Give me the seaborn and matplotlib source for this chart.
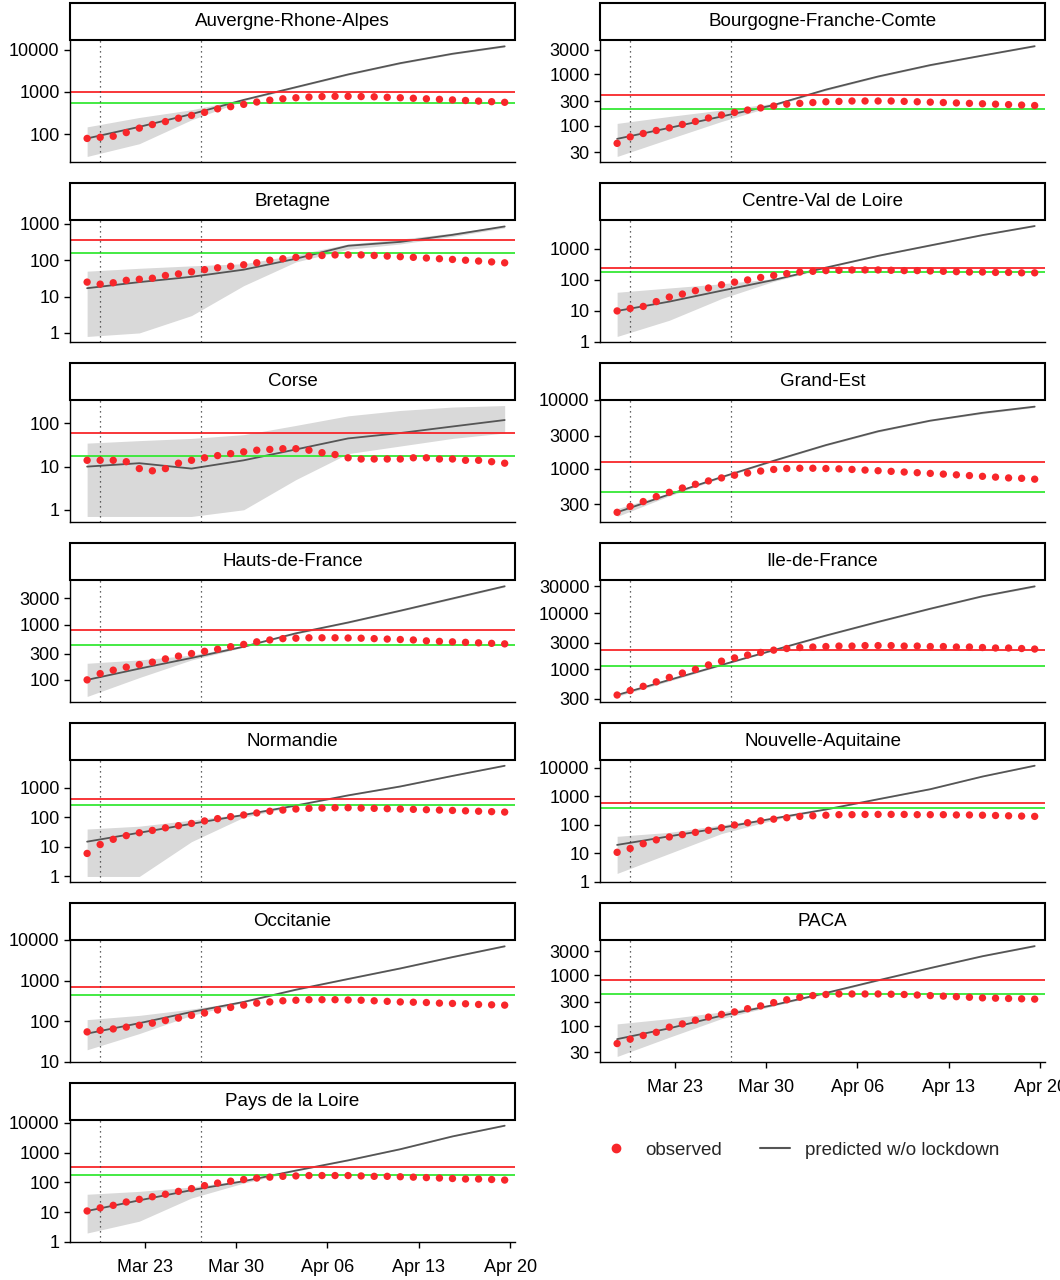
import numpy as np
import pandas as pd
import matplotlib
matplotlib.use("Agg")
import matplotlib.pyplot as plt
import matplotlib.dates as mdates
from matplotlib.patches import Rectangle
from matplotlib.lines import Line2D
import seaborn as sns

sns.set_theme(style="white")
plt.rcParams["font.family"] = ["Liberation Sans", "DejaVu Sans"]

# reports are stamped in the afternoon, hence the offset
dates = pd.date_range("2020-03-18 14:00", "2020-04-19 14:00", freq="D")
knot_dates = dates[::4]
lockdown_lines = [pd.Timestamp("2020-03-19 14:00"), pd.Timestamp("2020-03-27 07:00")]
xtick_dates = pd.to_datetime(["2020-03-23", "2020-03-30", "2020-04-06", "2020-04-13", "2020-04-20"])

regions = ["Auvergne-Rhone-Alpes", "Bourgogne-Franche-Comte", "Bretagne", "Centre-Val de Loire",
           "Corse", "Grand-Est", "Hauts-de-France", "Ile-de-France", "Normandie",
           "Nouvelle-Aquitaine", "Occitanie", "PACA", "Pays de la Loire"]

# observed (daily), predicted / band (every 4 days)
ara_obs = [80, 85, 90, 110, 140, 170, 200, 240, 280, 330, 400, 450, 510, 580, 640, 690, 730, 760, 780, 790, 790, 780, 770, 750, 730, 710, 690, 670, 650, 630, 610, 590, 570]
ara_pred = [80, 150, 300, 650, 1300, 2600, 4800, 8000, 12000]
ara_lo = [30, 60, 220, 620, 1250, 2500, 4600, 7700, 11500]
ara_hi = [150, 250, 380, 680, 1350, 2700, 5000, 8300, 12500]

bfc_obs = [45, 60, 70, 80, 90, 105, 120, 140, 160, 180, 200, 220, 240, 260, 270, 280, 290, 295, 300, 300, 300, 300, 295, 290, 285, 280, 275, 270, 265, 260, 255, 250, 245]
bfc_pred = [55, 90, 150, 250, 500, 900, 1500, 2300, 3500]
bfc_lo = [25, 55, 120, 240, 480, 870, 1450, 2250, 3400]
bfc_hi = [110, 150, 200, 270, 520, 930, 1550, 2400, 3600]

bre_obs = [25, 22, 24, 28, 30, 32, 38, 42, 48, 55, 62, 68, 75, 85, 100, 110, 120, 130, 135, 140, 140, 140, 135, 130, 125, 120, 115, 110, 105, 100, 95, 90, 85]
bre_pred = [17, 25, 35, 55, 110, 250, 320, 500, 850]
bre_lo = [0.8, 1, 3, 20, 90, 200, 280, 450, 780]
bre_hi = [50, 60, 70, 80, 140, 280, 380, 560, 900]

cvl_obs = [10, 12, 14, 20, 28, 35, 45, 55, 70, 85, 100, 120, 140, 160, 180, 190, 200, 205, 210, 210, 210, 205, 200, 200, 195, 190, 185, 180, 180, 175, 175, 170, 170]
cvl_pred = [10, 20, 45, 100, 250, 600, 1300, 2800, 5500]
cvl_lo = [1.5, 5, 25, 90, 240, 580, 1250, 2700, 5300]
cvl_hi = [40, 55, 75, 110, 260, 620, 1350, 2900, 5700]

cor_obs = [14, 14, 14, 13, 9, 8, 9, 12, 14, 16, 18, 20, 22, 24, 25, 26, 26, 24, 21, 19, 16, 15, 15, 15, 15, 16, 16, 15, 15, 14, 14, 13, 12]
cor_pred = [10, 12, 9, 14, 25, 45, 60, 85, 120]
cor_lo = [0.7, 0.7, 0.7, 1, 5, 20, 30, 45, 60]
cor_hi = [35, 40, 45, 55, 90, 150, 200, 240, 260]

ges_obs = [230, 280, 330, 390, 450, 520, 590, 660, 730, 800, 860, 920, 970, 1000, 1010, 1010, 1000, 990, 970, 950, 930, 910, 890, 870, 850, 830, 810, 790, 770, 750, 730, 720, 700]
ges_pred = [230, 420, 750, 1300, 2200, 3500, 5000, 6500, 8000]
ges_lo = [200, 400, 730, 1270, 2150, 3400, 4900, 6300, 7800]
ges_hi = [260, 440, 770, 1330, 2250, 3600, 5100, 6700, 8200]

hdf_obs = [100, 130, 150, 170, 190, 210, 240, 270, 300, 330, 360, 400, 440, 490, 530, 560, 570, 580, 580, 580, 575, 570, 560, 550, 540, 530, 510, 500, 490, 480, 470, 460, 450]
hdf_pred = [100, 160, 250, 400, 700, 1100, 1800, 3000, 5000]
hdf_lo = [50, 110, 230, 390, 680, 1070, 1750, 2900, 4850]
hdf_hi = [200, 230, 280, 420, 720, 1130, 1850, 3100, 5150]

idf_obs = [350, 420, 500, 600, 720, 860, 1000, 1200, 1400, 1600, 1800, 2000, 2200, 2350, 2450, 2500, 2550, 2600, 2600, 2650, 2650, 2650, 2600, 2600, 2550, 2550, 2500, 2500, 2450, 2400, 2400, 2350, 2300]
idf_pred = [350, 650, 1200, 2200, 4000, 7000, 12000, 20000, 30000]
idf_lo = [330, 620, 1170, 2150, 3900, 6800, 11700, 19500, 29000]
idf_hi = [370, 680, 1230, 2250, 4100, 7200, 12300, 20500, 31000]

nor_obs = [6, 12, 18, 24, 30, 36, 44, 52, 62, 75, 90, 105, 120, 140, 160, 175, 190, 200, 205, 210, 210, 205, 200, 195, 190, 185, 180, 175, 170, 165, 160, 155, 150]
nor_pred = [15, 30, 60, 120, 250, 550, 1100, 2500, 5500]
nor_lo = [1, 1, 15, 100, 240, 530, 1070, 2450, 5400]
nor_hi = [40, 50, 80, 130, 260, 570, 1130, 2550, 5600]

naq_obs = [11, 15, 22, 30, 38, 46, 55, 65, 80, 100, 120, 140, 160, 180, 200, 210, 220, 230, 230, 235, 235, 235, 235, 230, 230, 230, 225, 225, 220, 215, 210, 205, 200]
naq_pred = [20, 40, 80, 170, 350, 800, 1800, 5000, 12000]
naq_lo = [2, 10, 50, 150, 340, 780, 1750, 4900, 11700]
naq_hi = [40, 55, 100, 180, 360, 820, 1850, 5100, 12300]

occ_obs = [55, 60, 65, 72, 80, 90, 105, 120, 140, 160, 190, 220, 250, 280, 300, 320, 330, 340, 340, 340, 335, 330, 320, 310, 300, 295, 290, 280, 275, 270, 260, 255, 250]
occ_pred = [50, 90, 170, 300, 600, 1100, 2000, 3800, 7000]
occ_lo = [20, 50, 140, 290, 580, 1070, 1950, 3700, 6800]
occ_hi = [110, 140, 200, 310, 620, 1130, 2050, 3900, 7200]

pac_obs = [45, 55, 65, 75, 95, 110, 130, 150, 170, 190, 220, 250, 290, 330, 370, 400, 420, 430, 430, 430, 430, 425, 420, 410, 400, 390, 380, 370, 360, 355, 350, 345, 340]
pac_pred = [55, 90, 160, 260, 450, 800, 1400, 2400, 3800]
pac_lo = [25, 60, 140, 250, 430, 780, 1370, 2350, 3700]
pac_hi = [110, 140, 190, 270, 470, 820, 1430, 2450, 3900]

pdl_obs = [11, 14, 17, 22, 27, 33, 40, 50, 62, 78, 95, 110, 125, 140, 150, 160, 165, 170, 170, 170, 170, 165, 160, 160, 155, 150, 145, 140, 135, 130, 130, 125, 120]
pdl_pred = [11, 25, 55, 110, 250, 550, 1300, 3500, 8000]
pdl_lo = [2, 5, 30, 95, 240, 530, 1270, 3400, 7800]
pdl_hi = [40, 50, 70, 120, 260, 570, 1330, 3600, 8200]

red_levels = [1000, 400, 350, 250, 60, 1250, 800, 2200, 400, 600, 700, 800, 330]
green_levels = [550, 210, 160, 180, 18, 450, 430, 1150, 250, 400, 450, 430, 180]
yticks = [[100, 1000, 10000], [30, 100, 300, 1000, 3000], [1, 10, 100, 1000], [1, 10, 100, 1000],
          [1, 10, 100], [300, 1000, 3000, 10000], [100, 300, 1000, 3000], [300, 1000, 3000, 10000, 30000],
          [1, 10, 100, 1000], [1, 10, 100, 1000, 10000], [10, 100, 1000, 10000], [30, 100, 300, 1000, 3000],
          [1, 10, 100, 1000, 10000]]

series = [(ara_obs, ara_pred, ara_lo, ara_hi), (bfc_obs, bfc_pred, bfc_lo, bfc_hi),
          (bre_obs, bre_pred, bre_lo, bre_hi), (cvl_obs, cvl_pred, cvl_lo, cvl_hi),
          (cor_obs, cor_pred, cor_lo, cor_hi), (ges_obs, ges_pred, ges_lo, ges_hi),
          (hdf_obs, hdf_pred, hdf_lo, hdf_hi), (idf_obs, idf_pred, idf_lo, idf_hi),
          (nor_obs, nor_pred, nor_lo, nor_hi), (naq_obs, naq_pred, naq_lo, naq_hi),
          (occ_obs, occ_pred, occ_lo, occ_hi), (pac_obs, pac_pred, pac_lo, pac_hi),
          (pdl_obs, pdl_pred, pdl_lo, pdl_hi)]

RED = "#F8262A"
GREEN = "#35E835"
LINE = "#555555"
BAND = "#D9D9D9"

W, H = 1060, 1280
fig = plt.figure(figsize=(W / 100, H / 100), dpi=100)
xlim = (pd.Timestamp("2020-03-17 06:30"), pd.Timestamp("2020-04-20 09:00"))

for i, name in enumerate(regions):
    obs, pred, lo, hi = series[i]
    row, col = divmod(i, 2)
    x0 = 70 if col == 0 else 600
    top = 40 + 180 * row
    ax = fig.add_axes([x0 / W, 1 - (top + 122) / H, 445 / W, 122 / H])
    ax.set_yscale("log")
    ax.fill_between(knot_dates, lo, hi, color=BAND, lw=0)
    sns.lineplot(x=knot_dates, y=pred, ax=ax, color=LINE, lw=1.3)
    ax.axhline(red_levels[i], color=RED, lw=1.3)
    ax.axhline(green_levels[i], color=GREEN, lw=1.3)
    for d in lockdown_lines:
        ax.axvline(d, color="#333333", lw=0.9, ls=(0, (1, 3)))
    sns.scatterplot(x=dates, y=obs, ax=ax, color=RED, s=28, edgecolor="none", zorder=5)

    allv = np.array(obs + pred + lo + hi + [red_levels[i], green_levels[i]], dtype=float)
    lmin, lmax = np.log10(allv.min()), np.log10(allv.max())
    pad = 0.05 * (lmax - lmin)
    ax.set_ylim(10 ** (lmin - pad), 10 ** (lmax + pad))
    ax.set_yticks(yticks[i])
    ax.set_yticklabels([str(t) for t in yticks[i]])
    ax.minorticks_off()
    ax.set_xlim(xlim)
    ax.set_ylabel("")
    ax.set_xlabel("")
    for s in ["top", "right"]:
        ax.spines[s].set_visible(False)
    for s in ["left", "bottom"]:
        ax.spines[s].set_color("black")
        ax.spines[s].set_linewidth(1.0)
    ax.tick_params(axis="y", labelsize=13, colors="black", length=4, width=1, left=True)
    ax.set_xticks(xtick_dates)
    ax.xaxis.set_major_formatter(mdates.DateFormatter("%b %d"))
    if i in (11, 12):
        ax.tick_params(axis="x", labelsize=13, colors="black", length=4, width=1,
                       bottom=True, pad=8)
    else:
        ax.tick_params(axis="x", labelbottom=False, bottom=False)
    # facet strip
    strip_h = 37 / 122
    ax.add_patch(Rectangle((0, 1.0), 1, strip_h, transform=ax.transAxes, fc="white",
                           ec="black", lw=1.5, clip_on=False))
    ax.text(0.5, 1.0 + strip_h / 2, name, transform=ax.transAxes, ha="center", va="center",
            fontsize=13.5, color="black")

handles = [Line2D([], [], marker="o", ls="none", color=RED, markersize=6),
           Line2D([], [], color=LINE, lw=1.5)]
fig.legend(handles, ["observed", "predicted w/o lockdown"], loc="center",
           bbox_to_anchor=(800 / W, 1 - 1150 / H), ncol=2, frameon=False, fontsize=13.5,
           handlelength=1.6, columnspacing=2.0)

fig.savefig("out.png", dpi=100)
